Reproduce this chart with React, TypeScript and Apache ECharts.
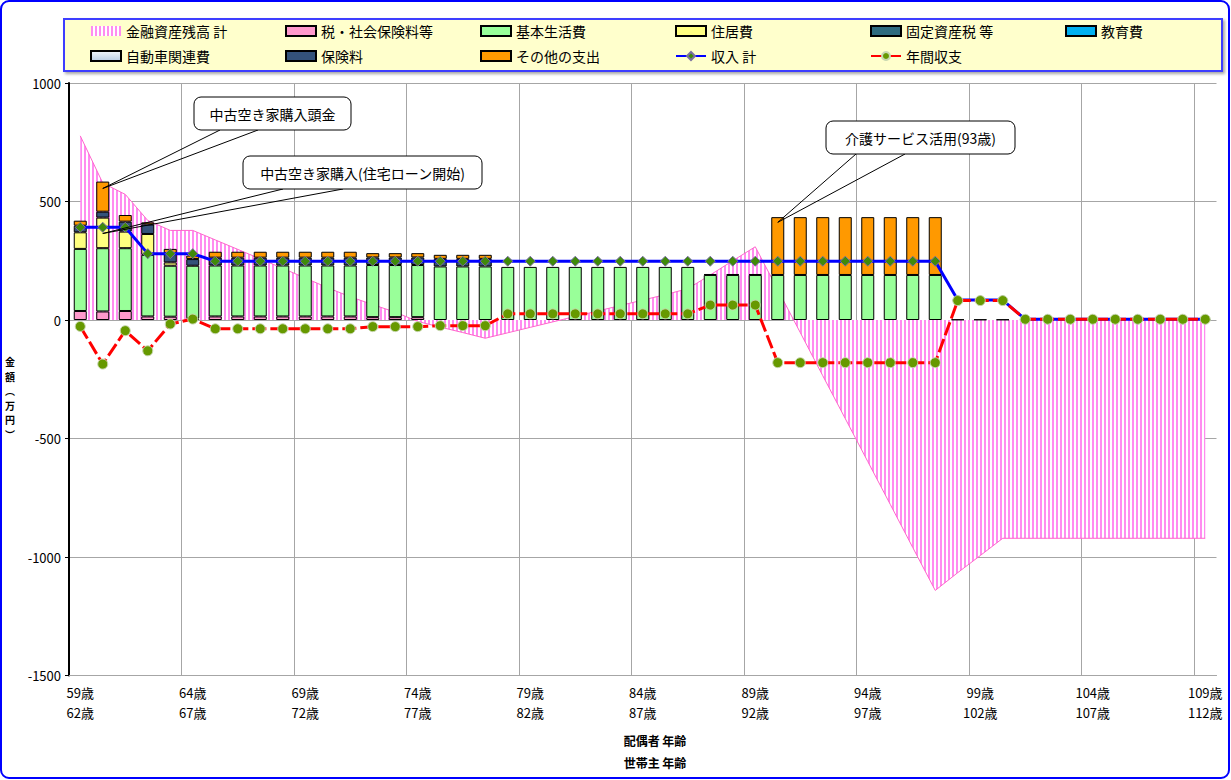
import React, { useEffect, useRef } from "react";
import * as echarts from "echarts";

const FONT = '"Noto Sans CJK JP", "Noto Sans", sans-serif';

// 配偶者 年齢 / 世帯主 年齢
const spouseAges = [59, 60, 61, 62, 63, 64, 65, 66, 67, 68, 69, 70, 71, 72, 73, 74, 75, 76, 77, 78, 79, 80, 81, 82, 83, 84, 85, 86, 87, 88, 89, 90, 91, 92, 93, 94, 95, 96, 97, 98, 99, 100, 101, 102, 103, 104, 105, 106, 107, 108, 109];
const householderAges = [62, 63, 64, 65, 66, 67, 68, 69, 70, 71, 72, 73, 74, 75, 76, 77, 78, 79, 80, 81, 82, 83, 84, 85, 86, 87, 88, 89, 90, 91, 92, 93, 94, 95, 96, 97, 98, 99, 100, 101, 102, 103, 104, 105, 106, 107, 108, 109, 110, 111, 112];

// 金融資産残高 計
const assets = [777, 578, 530, 420, 378, 378, 338, 298, 258, 218, 177, 136, 98, 65, 33, -6, -30, -53, -77, -54, -31, -8, 15, 38, 61, 84, 107, 132, 190, 250, 309, 128, -53, -235, -416, -597, -778, -960, -1141, -1066, -994, -921, -921, -921, -921, -921, -921, -921, -921, -921, -921];
// 税・社会保険料等
const tax = [38, 36, 38, 15, 14, 7, 15, 15, 15, 15, 15, 15, 15, 12, 12, 12, 0, 0, 0, 0, 0, 0, 0, 0, 0, 0, 0, 0, 0, 0, 0, 0, 0, 0, 0, 0, 0, 0, 0, 0, 0, 0, 0, 0, 0, 0, 0, 0, 0, 0, 0];
// 基本生活費
const basic = [262, 267, 265, 260, 215, 222, 215, 215, 215, 215, 215, 215, 215, 220, 220, 220, 226, 226, 226, 224, 224, 224, 224, 224, 224, 224, 224, 224, 190, 190, 190, 190, 190, 190, 190, 190, 190, 190, 190, 0, 0, 0, 0, 0, 0, 0, 0, 0, 0, 0, 0];
// 住居費
const housing = [70, 129, 70, 88, 14, 0, 0, 0, 0, 0, 0, 0, 0, 0, 0, 0, 0, 0, 0, 0, 0, 0, 0, 0, 0, 0, 0, 0, 0, 0, 0, 0, 0, 0, 0, 0, 0, 0, 0, 0, 0, 0, 0, 0, 0, 0, 0, 0, 0, 0, 0];
// 固定資産税 等
const propertyTax = [0, 0, 0, 0, 0, 0, 0, 0, 0, 0, 0, 0, 0, 0, 0, 0, 0, 0, 0, 0, 0, 0, 0, 0, 0, 0, 0, 0, 0, 0, 0, 0, 0, 0, 0, 0, 0, 0, 0, 0, 0, 0, 0, 0, 0, 0, 0, 0, 0, 0, 0];
// 教育費
const education = [0, 0, 0, 0, 0, 0, 0, 0, 0, 0, 0, 0, 0, 0, 0, 0, 0, 0, 0, 0, 0, 0, 0, 0, 0, 0, 0, 0, 0, 0, 0, 0, 0, 0, 0, 0, 0, 0, 0, 0, 0, 0, 0, 0, 0, 0, 0, 0, 0, 0, 0];
// 自動車関連費
const car = [0, 0, 0, 0, 0, 0, 0, 0, 0, 0, 0, 0, 0, 0, 0, 0, 0, 0, 0, 0, 0, 0, 0, 0, 0, 0, 0, 0, 0, 0, 0, 0, 0, 0, 0, 0, 0, 0, 0, 0, 0, 0, 0, 0, 0, 0, 0, 0, 0, 0, 0];
// 保険料
const insurance = [28, 25, 42, 40, 38, 28, 33, 33, 33, 33, 33, 33, 33, 32, 32, 32, 32, 32, 32, 0, 0, 0, 0, 0, 0, 0, 0, 0, 4, 4, 4, 0, 0, 0, 0, 0, 0, 0, 0, 2, 2, 2, 0, 0, 0, 0, 0, 0, 0, 0, 0];
// その他の支出
const other = [21, 127, 28, 9, 19, 15, 25, 25, 25, 25, 25, 25, 25, 18, 18, 18, 17, 17, 17, 0, 0, 0, 0, 0, 0, 0, 0, 0, 0, 0, 0, 244, 244, 244, 244, 244, 244, 244, 244, 0, 0, 0, 0, 0, 0, 0, 0, 0, 0, 0, 0];
// 収入 計
const income = [391, 391, 391, 280, 280, 280, 248, 248, 248, 248, 248, 248, 248, 248, 248, 248, 248, 248, 248, 248, 248, 248, 248, 248, 248, 248, 248, 248, 248, 248, 248, 248, 248, 248, 248, 248, 248, 248, 248, 84, 84, 84, 3, 3, 3, 3, 3, 3, 3, 3, 3];
// 年間収支
const balance = [-27, -186, -45, -130, -17, 4, -37, -37, -37, -37, -37, -37, -37, -28, -28, -28, -24, -24, -24, 26, 26, 26, 26, 26, 26, 26, 26, 26, 63, 63, 63, -180, -180, -180, -180, -180, -180, -180, -180, 82, 82, 82, 3, 3, 3, 3, 3, 3, 3, 3, 3];

// callouts (text and the data point each one points to)
const calloutTexts = ["中古空き家購入頭金", "中古空き家購入(住宅ローン開始)", "介護サービス活用(93歳)"];
const calloutTargets: [number, number][] = [[1, 555], [1, 365], [31, 412]];
// callout box layout (pixels)
const calloutBoxes = [
  { x: 194, y: 97, w: 157, h: 33, b0: 220, b1: 258 },
  { x: 243, y: 156, w: 239, h: 33, b0: 283, b1: 343 },
  { x: 826, y: 121, w: 189, h: 33, b0: 856, b1: 905 },
];

export default function App() {
  const ref = useRef<HTMLDivElement>(null);

  useEffect(() => {
    const chart = echarts.init(ref.current as HTMLDivElement, null, { renderer: "svg" });

    const cv = document.createElement("canvas");
    cv.width = 4;
    cv.height = 4;
    const ctx = cv.getContext("2d")!;
    ctx.fillStyle = "#ffffff";
    ctx.fillRect(0, 0, 4, 4);
    ctx.fillStyle = "#FF8CF0";
    ctx.fillRect(0, 0, 2, 4);
    const stripe: any = { image: cv.toDataURL(), repeat: "repeat", imageWidth: 4, imageHeight: 4 };

    const categories = spouseAges.map((a, i) => `${a}歳\n${householderAges[i]}歳`);
    const nz = (arr: number[]) => arr.map((v) => (v === 0 ? null : v));

    const bar = (name: string, data: number[], color: any) => ({
      name,
      type: "bar",
      stack: "exp",
      data: nz(data),
      barWidth: 13,
      itemStyle: { color, borderColor: "#000", borderWidth: 1 },
      emphasis: { disabled: true },
      z: 2,
    });

    const option: any = {
      animation: false,
      textStyle: { fontFamily: FONT },
      grid: { left: 69, right: 14.5, top: 83, bottom: 104.5, containLabel: false },
      legend: {
        left: 90,
        top: 23,
        width: 1200,
        padding: 0,
        itemGap: 9,
        itemWidth: 30,
        itemHeight: 10,
        itemTextGap: 4,
        selectedMode: false,
        textStyle: { fontFamily: FONT, fontSize: 14, color: "#000", width: 150, lineHeight: 16 },
        data: [
          { name: "金融資産残高 計", icon: "rect", itemStyle: { color: stripe, borderWidth: 0 } },
          { name: "税・社会保険料等", icon: "rect" },
          { name: "基本生活費", icon: "rect" },
          { name: "住居費", icon: "rect" },
          { name: "固定資産税 等", icon: "rect" },
          { name: "教育費", icon: "rect" },
          { name: "自動車関連費", icon: "rect" },
          { name: "保険料", icon: "rect" },
          { name: "その他の支出", icon: "rect" },
          { name: "収入 計" },
          { name: "年間収支" },
        ],
      },
      xAxis: {
        type: "category",
        data: categories,
        boundaryGap: true,
        axisLine: { onZero: false, lineStyle: { color: "#A6A6A6", width: 1 } },
        axisTick: { show: false },
        axisLabel: { interval: 4, fontFamily: FONT, fontSize: 13, color: "#000", lineHeight: 20, margin: 7 },
        splitLine: { show: true, interval: 4, showMaxLine: false, lineStyle: { color: "#A6A6A6", width: 1 } },
      },
      yAxis: {
        type: "value",
        min: -1500,
        max: 1000,
        interval: 500,
        axisLine: { show: true, lineStyle: { color: "#000", width: 2 } },
        axisTick: { show: true, length: 4, lineStyle: { color: "#000", width: 1 } },
        axisLabel: { fontFamily: FONT, fontSize: 13, color: "#000", margin: 8, formatter: (v: number) => String(v) },
        splitLine: { show: true, lineStyle: { color: "#A6A6A6", width: 1 } },
      },
      series: [
        {
          name: "金融資産残高 計",
          type: "line",
          data: assets,
          symbol: "none",
          lineStyle: { color: "#FF66CC", width: 1 },
          itemStyle: { color: "#FF66CC" },
          areaStyle: { color: stripe, opacity: 1 },
          emphasis: { disabled: true },
          z: 1,
        },
        bar("税・社会保険料等", tax, "#FF99CC"),
        bar("基本生活費", basic, "#99FF99"),
        bar("住居費", housing, "#FFFF80"),
        bar("固定資産税 等", propertyTax, "#2E6B7E"),
        bar("教育費", education, "#00B0F0"),
        bar("自動車関連費", car, {
          type: "linear", x: 0, y: 0, x2: 0, y2: 1,
          colorStops: [{ offset: 0, color: "#F2F6FB" }, { offset: 1, color: "#B8CCE4" }],
        }),
        bar("保険料", insurance, "#34527A"),
        bar("その他の支出", other, "#FF9900"),
        {
          name: "収入 計",
          type: "line",
          data: income,
          symbol: "diamond",
          symbolSize: 10,
          lineStyle: { color: "#0000FF", width: 3 },
          itemStyle: { color: "#3F8A0A", borderColor: "#7A70A0", borderWidth: 1 },
          emphasis: { disabled: true },
          z: 3,
        },
        {
          name: "年間収支",
          type: "line",
          data: balance,
          symbol: "circle",
          symbolSize: 10,
          lineStyle: { color: "#FF0000", width: 3, type: [14, 4] },
          itemStyle: { color: "#669900", borderColor: "#C8D8B0", borderWidth: 1 },
          emphasis: { disabled: true },
          z: 4,
        },
      ],
    };

    chart.setOption(option);

    const graphics: any[] = [
      {
        type: "rect",
        z: 0,
        shape: { x: 64, y: 19, width: 1158, height: 52 },
        style: { fill: "#FFFFCC", stroke: "#3C3CFF", lineWidth: 2, shadowBlur: 3, shadowOffsetX: 2, shadowOffsetY: 2, shadowColor: "rgba(0,0,0,0.35)" },
      },
      {
        type: "rect",
        z: 100,
        shape: { x: 1, y: 1, width: 1228, height: 777, r: 8 },
        style: { fill: "none", stroke: "#0000FF", lineWidth: 2 },
      },
      {
        type: "text",
        z: 100,
        x: 10,
        y: 398,
        style: {
          text: "金\n額\n︵\n万\n円\n︶",
          font: `bold 10px ${FONT}`,
          lineHeight: 14.5,
          fill: "#000",
          align: "center",
          verticalAlign: "middle",
          textAlign: "center",
          textVerticalAlign: "middle",
        },
      },
      {
        type: "text",
        z: 100,
        x: 655,
        y: 740,
        style: { text: "配偶者 年齢", font: `bold 12px ${FONT}`, fill: "#000", align: "center", verticalAlign: "middle", textAlign: "center", textVerticalAlign: "middle" },
      },
      {
        type: "text",
        z: 100,
        x: 655,
        y: 762,
        style: { text: "世帯主 年齢", font: `bold 12px ${FONT}`, fill: "#000", align: "center", verticalAlign: "middle", textAlign: "center", textVerticalAlign: "middle" },
      },
    ];

    calloutTexts.forEach((t, i) => {
      const b = calloutBoxes[i];
      const tip = chart.convertToPixel({ xAxisIndex: 0, yAxisIndex: 0 }, calloutTargets[i]) as number[];
      graphics.push({
        type: "polyline",
        z: 100,
        shape: { points: [[b.b0, b.y + b.h], [tip[0], tip[1]], [b.b1, b.y + b.h]] },
        style: { stroke: "#000", fill: "none", lineWidth: 1 },
      });
      graphics.push({
        type: "rect",
        z: 100,
        shape: { x: b.x, y: b.y, width: b.w, height: b.h, r: 7 },
        style: { fill: "#fff", stroke: "#000", lineWidth: 1 },
      });
      graphics.push({
        type: "text",
        z: 101,
        x: b.x + b.w / 2,
        y: b.y + b.h / 2,
        style: { text: t, font: `14px ${FONT}`, fill: "#000", align: "center", verticalAlign: "middle", textAlign: "center", textVerticalAlign: "middle" },
      });
    });

    chart.setOption({ graphic: graphics });

    return () => {
      chart.dispose();
    };
  }, []);

  return <div ref={ref} style={{ position: "absolute", left: 0, top: 0, width: 1231, height: 780 }} />;
}
